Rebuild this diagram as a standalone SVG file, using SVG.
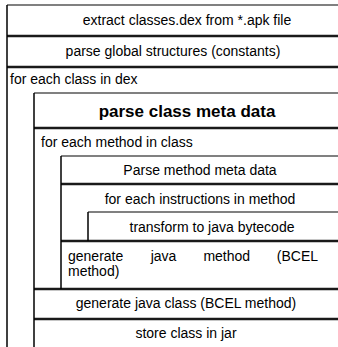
<svg xmlns="http://www.w3.org/2000/svg" width="338" height="347" viewBox="0 0 338 347">
<style>
text{font-family:"Liberation Sans",Arial,sans-serif;font-size:14px;fill:#000}
.c{text-anchor:middle}
.b{font-weight:bold;font-size:17px}
.thin{stroke:#808080;stroke-width:2;fill:none}
.thick{stroke:#1a1a1a;stroke-width:2.5;fill:none}
.v{stroke:#000;stroke-width:1.5;fill:none}
</style>
<rect width="338" height="347" fill="#fff"/>
<g id="connectors">
<line class="thin" x1="7" y1="5" x2="338" y2="5"/>
<line class="thick" x1="7" y1="36" x2="338" y2="36"/>
<line class="thick" x1="7" y1="67" x2="338" y2="67"/>
<line class="thin" x1="34" y1="93" x2="338" y2="93"/>
<line class="thick" x1="34" y1="128" x2="338" y2="128"/>
<line class="thin" x1="61" y1="156" x2="338" y2="156"/>
<line class="thick" x1="61" y1="184" x2="338" y2="184"/>
<line class="thin" x1="88" y1="212" x2="338" y2="212"/>
<line class="thick" x1="61" y1="241" x2="338" y2="241"/>
<line class="thick" x1="34" y1="289" x2="338" y2="289"/>
<line class="thick" x1="34" y1="319" x2="338" y2="319"/>
<line class="v" x1="7" y1="5" x2="7" y2="347"/>
<line class="v" x1="34" y1="93" x2="34" y2="347"/>
<line class="v" x1="61" y1="156" x2="61" y2="289"/>
<line class="v" x1="88" y1="212" x2="88" y2="241"/>
</g>
<g id="extract"><text class="c" x="187" y="25">extract classes.dex from *.apk file</text></g>
<g id="parse-global"><text class="c" x="173" y="56">parse global structures (constants)</text></g>
<g id="for-class"><text x="10" y="84">for each class in dex</text></g>
<g id="parse-class"><text class="c b" x="187" y="117">parse class meta data</text></g>
<g id="for-method"><text x="41" y="147">for each method in class</text></g>
<g id="parse-method"><text class="c" x="200" y="175">Parse method meta data</text></g>
<g id="for-instr"><text class="c" x="200" y="204">for each instructions in method</text></g>
<g id="transform"><text class="c" x="212" y="232">transform to java bytecode</text></g>
<g id="gen-method"><text y="261"><tspan x="68">generate</tspan><tspan x="150.7">java</tspan><tspan x="203.4">method</tspan><tspan x="318" text-anchor="end">(BCEL</tspan></text><text x="68" y="276">method)</text></g>
<g id="gen-class"><text class="c" x="186" y="308">generate java class (BCEL method)</text></g>
<g id="store"><text class="c" x="186" y="338">store class in jar</text></g>
</svg>
